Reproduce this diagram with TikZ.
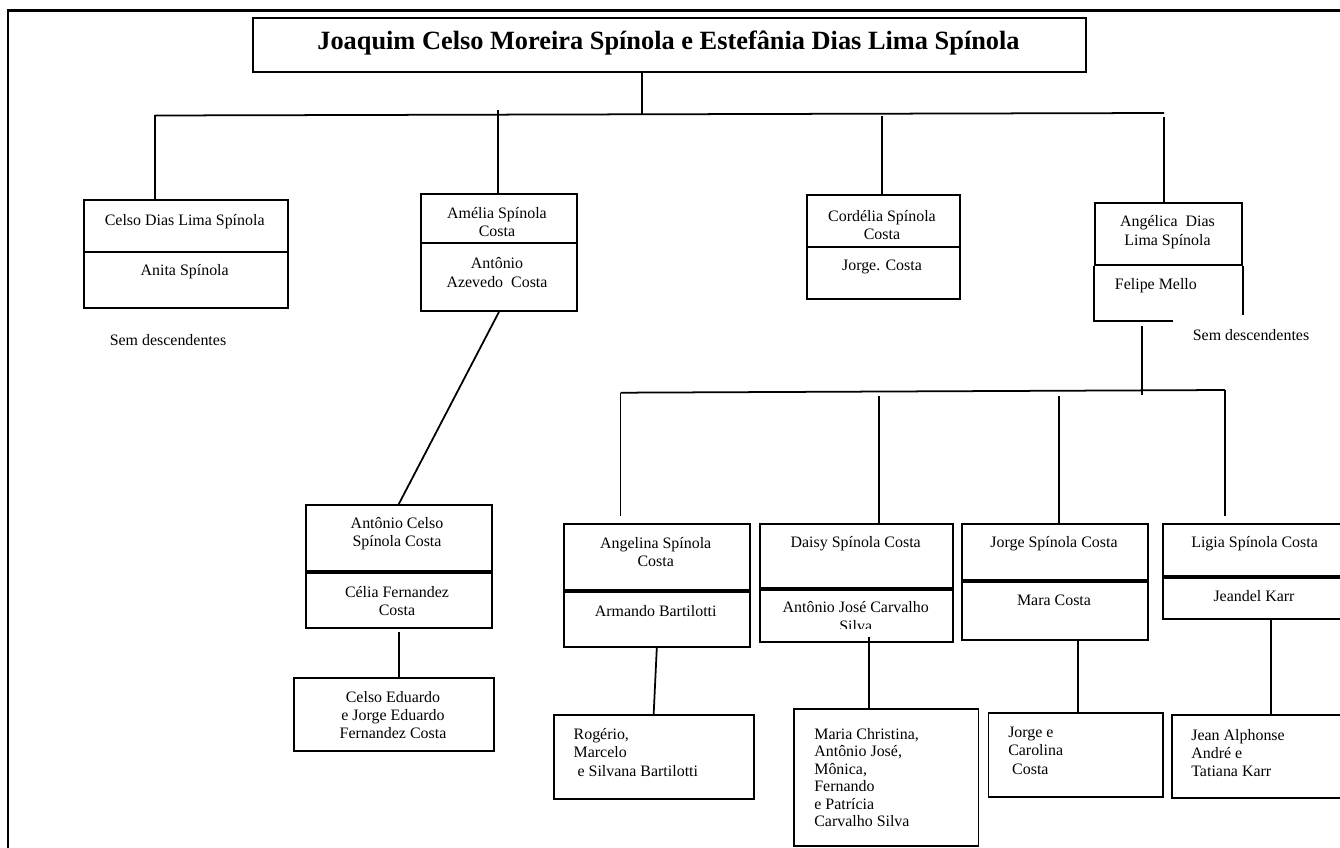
\documentclass[tikz,border=0pt]{standalone}
\usepackage{fontspec}
\setmainfont{Liberation Serif}
\tikzset{
  cell/.style 2 args={draw, line width=1.1pt, inner sep=0pt, anchor=north west,
    minimum width=#1*0.02cm, minimum height=#2*0.02cm},
  txt/.style={inner sep=0pt, align=center, font=\fontsize{9.07pt}{10.5pt}\selectfont},
  txtl/.style={txt, align=left, anchor=west},
  boxline/.style={line width=1.1pt},
  link/.style={line width=1pt},
  divider/.style={line width=2.3pt},
}

\begin{document}
\begin{tikzpicture}[x=0.02cm, y=-0.02cm]
			%%%%% FRAME %%%%%
			\path[use as bounding box, clip] (0,0) rectangle (1340,848);
			\draw[line width=1.4pt] (8,848) -- (8,10.7) -- (1340,10.7);
			
			%%%%% PARENTS %%%%%
			\node[cell={833}{54}] (joaquim) at (252,17) {};
			\node[txt, font=\fontsize{15pt}{17pt}\selectfont\bfseries] (joaquimTxt) at (668.5,43) {Joaquim Celso Moreira Spínola e Estefânia Dias Lima Spínola};
			
			\coordinate (bus0) at (642,114);
			\coordinate (busL) at (155,115.5);
			\coordinate (busR) at (1164,113);
			\draw[link] (bus0 |- joaquim.south) -- (bus0);
			\draw[link] (busL) -- (busR);
			
			%%%%% CHILDREN %%%%%
			\node[cell={204}{51.4}] (celso) at (82.7,199.3) {};
			\node[cell={204}{56}] (anita) at (82.7,250.7) {};
			\node[txt] (celsoTxt) at (184.7,222) {Celso Dias Lima Spínola};
			\node[txt] (anitaTxt) at (184.7,272) {Anita Spínola};
			\node[txt] (semA) at (168,340) {Sem descendentes};
			\draw[link] (busL) -- (busL |- celso.north);
			
			\node[cell={156}{49.3}] (amelia) at (420,192.7) {};
			\node[cell={156}{68}] (antonio) at (420,242) {};
			\node[txt] (ameliaTxt) at (497,222) {Amélia Spínola\\Costa};
			\node[txt] (antonioTxt) at (497,272.5) {Antônio\\Azevedo~ Costa};
			\coordinate (c2) at (498,110);
			\draw[link] (c2) -- (c2 |- amelia.north);
			
			\node[cell={153}{51.4}] (cordelia) at (805.7,194.3) {};
			\node[cell={153}{52.6}] (jorge) at (805.7,245.7) {};
			\node[txt] (cordeliaTxt) at (882,225) {Cordélia Spínola\\Costa};
			\node[txt] (jorgeTxt) at (882,266.7) {Jorge. Costa};
			\coordinate (c3) at (882,116.5);
			\draw[link] (c3) -- (c3 |- cordelia.north);
			
			\node[cell={147.1}{62.3}] (angelica) at (1093.6,201.7) {};
			\node[txt] (angelicaTxt) at (1167.5,232) {Angélica~ Dias\\Lima Spínola};
			\node[txt, anchor=west] (felipe) at (1114.6,286) {Felipe Mello};
			\draw[boxline] (angelica.south west) -- ++(0,55.3) -- ++(79.3,0);
			\draw[boxline] (angelica.south east) -- ++(0,49.3);
			\node[txt] (semB) at (1251,335) {Sem descendentes};
			\coordinate (c4) at (1164,117);
			\draw[link] (c4) -- (c4 |- angelica.north);
			
			%%%%% AMELIA -> ANTONIO CELSO %%%%%
			\node[cell={185.7}{66}] (antCelso) at (305,504) {};
			\node[cell={185.7}{56.7}] (celia) at (305,570) {};
			\draw[divider] (antCelso.south west) -- (antCelso.south east);
			\node[txt] (antCelsoTxt) at (397,533.5) {Antônio Celso\\Spínola Costa};
			\node[txt] (celiaTxt) at (397,601) {Célia Fernandez\\Costa};
			\draw[link] (antonio.south) -- (antCelso.north);
			
			\node[cell={199.4}{73.3}] (eduardo) at (293.3,676.7) {};
			\node[txt] (eduardoTxt) at (393,715) {Celso Eduardo\\e Jorge Eduardo\\Fernandez Costa};
			\draw[link, shorten <=2pt] (celia.south) -- (celia.south |- eduardo.north);
			
			%%%%% ANGELICA -> GRANDCHILDREN %%%%%
			\coordinate (d0) at (1142,326);
			\draw[link] (d0) -- ++(0,69);
			\coordinate (gL) at (620.5,392.7);
			\coordinate (gR) at (1225,390);
			\draw[link] (gL) -- (gR);
			\coordinate (g2) at (879,396);
			\coordinate (g3) at (1059,396);
			
			\node[cell={186.3}{66.6}] (angelina) at (562.7,522.7) {};
			\node[cell={186.3}{56.4}] (armando) at (562.7,589.3) {};
			\draw[divider] (angelina.south west) -- (angelina.south east);
			\node[txt] (angelinaTxt) at (655.7,552) {Angelina Spínola\\Costa};
			\node[txt] (armandoTxt) at (655.7,611) {Armando Bartilotti};
			\draw[link, shorten >=4pt] (gL) -- (gL |- angelina.north);
			\node[cell={200}{84.3}] (rogerio) at (552.7,714) {};
			\node[txtl] (rogerioTxt) at (573.3,752.5) {Rogério,\\Marcelo\\\hspace*{0.25em}e Silvana Bartilotti};
			\draw[link] (armando.south) -- (rogerio.north);
			
			\node[cell={193.4}{64}] (daisy) at (759,522.7) {};
			\node[cell={193.4}{54}] (antJose) at (759,586.7) {};
			\draw[divider] (daisy.south west) -- (daisy.south east);
			\node[txt] (daisyTxt) at (855.7,543.3) {Daisy Spínola Costa};
			\begin{scope}
				\clip (759,586.7) rectangle (952.4,628.5);
				\node[txt] (antJoseTxt) at (855.7,616.7) {Antônio José Carvalho\\Silva};
			\end{scope}
			\draw[link] (g2) -- (g2 |- daisy.north);
			\node[cell={184.2}{136.7}] (maria) at (793.3,708.3) {};
			\node[txtl, font=\fontsize{9.07pt}{10pt}\selectfont] (mariaTxt) at (814,777.5) {Maria Christina,\\Antônio José,\\Mônica,\\Fernando\\e Patrícia\\Carvalho Silva};
			\coordinate (m0) at (869,636.7);
			\draw[link] (m0) -- (m0 |- maria.north);
			
			\node[cell={185.7}{56}] (jorgeSp) at (960.9,522.7) {};
			\node[cell={185.7}{60.6}] (mara) at (960.9,578.7) {};
			\draw[divider] (jorgeSp.south west) -- (jorgeSp.south east);
			\node[txt] (jorgeSpTxt) at (1054,543.3) {Jorge Spínola Costa};
			\node[txt] (maraTxt) at (1054,600.7) {Mara Costa};
			\draw[link] (g3) -- (g3 |- jorgeSp.north);
			\node[cell={174.5}{84}] (carolina) at (987.5,711.7) {};
			\node[txtl] (carolinaTxt) at (1007.9,750.5) {Jorge e\\Carolina\\\hspace*{0.25em}Costa};
			\coordinate (k0) at (1078,639.3);
			\draw[link] (k0) -- (k0 |- carolina.north);
			
			\node[cell={185}{52.3}] (ligia) at (1162,522.7) {};
			\node[cell={185}{43.3}] (jeandel) at (1162,575) {};
			\draw[divider] (ligia.south west) -- (ligia.south east);
			\node[txt] (ligiaTxt) at (1254.6,543.3) {Ligia Spínola Costa};
			\node[txt] (jeandelTxt) at (1254,595.7) {Jeandel Karr};
			\draw[link, shorten >=4pt] (gR) -- (gR |- ligia.north);
			\node[cell={180}{83.3}] (jean) at (1170.7,714) {};
			\node[txtl] (jeanTxt) at (1191,753) {Jean Alphonse\\André e\\Tatiana Karr};
			\coordinate (l0) at (1271,618.3);
			\draw[link] (l0) -- (l0 |- jean.north);
			
			%%%%% END %%%%%
\end{tikzpicture}
\end{document}
